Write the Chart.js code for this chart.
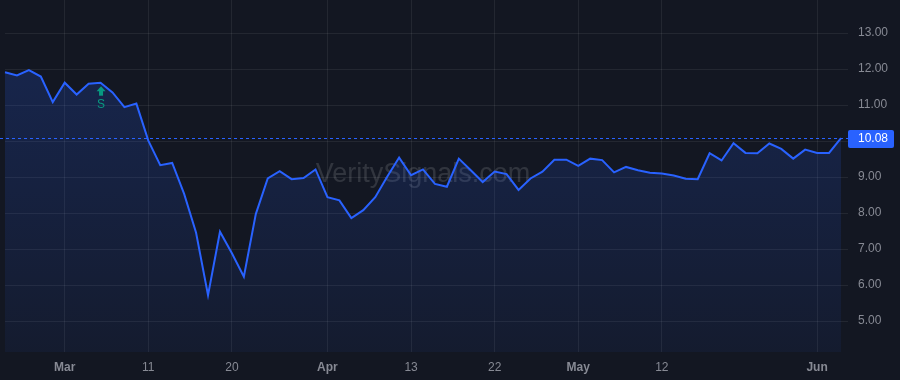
<!DOCTYPE html>
<html>
<head>
<meta charset="utf-8">
<script src="https://cdn.jsdelivr.net/npm/chart.js@4.4.1/dist/chart.umd.min.js"></script>
<style>
  html, body { margin: 0; padding: 0; background: #131722; }
  #wrap { width: 900px; height: 380px; }
</style>
</head>
<body>
<div id="wrap"><canvas id="chart1"></canvas></div>
<script>
// trading days shown on the chart
var categories = [
  'Feb 22','Feb 23','Feb 26','Feb 27','Feb 28','Mar 1','Mar 4','Mar 5','Mar 6','Mar 7',
  'Mar 8','Mar 9','Mar 11','Mar 12','Mar 13','Mar 14','Mar 15','Mar 18','Mar 19','Mar 20',
  'Mar 21','Mar 22','Mar 25','Mar 26','Mar 27','Mar 28','Mar 29','Apr 1','Apr 2','Apr 3',
  'Apr 4','Apr 5','Apr 8','Apr 10','Apr 13','Apr 14','Apr 15','Apr 16','Apr 17','Apr 18',
  'Apr 19','Apr 22','Apr 23','Apr 24','Apr 25','Apr 26','Apr 29','Apr 30','May 1','May 2',
  'May 3','May 6','May 7','May 8','May 9','May 10','May 12','May 13','May 14','May 15',
  'May 16','May 17','May 20','May 21','May 22','May 23','May 24','May 28','Jun 1','Jun 2',
  'Jun 3'
];
var prices = [
  11.91, 11.82, 11.97, 11.79, 11.08, 11.62, 11.29, 11.59, 11.62, 11.35,
  10.94, 11.04, 10.01, 9.33, 9.39, 8.53, 7.45, 5.72, 7.48, 6.88,
  6.23, 7.97, 8.96, 9.16, 8.94, 8.97, 9.21, 8.44, 8.35, 7.86,
  8.08, 8.44, 9.01, 9.54, 9.05, 9.21, 8.81, 8.73, 9.51, 9.19,
  8.86, 9.15, 9.08, 8.64, 8.96, 9.15, 9.48, 9.48, 9.31, 9.51,
  9.47, 9.13, 9.28, 9.19, 9.12, 9.10, 9.04, 8.95, 8.94, 9.66,
  9.46, 9.94, 9.67, 9.66, 9.93, 9.78, 9.51, 9.76, 9.67, 9.67,
  10.08
];
var tickIdx = [5, 12, 19, 27, 34, 41, 48, 55, 68];
var tickLabels = ['Mar', '11', '20', 'Apr', '13', '22', 'May', '12', 'Jun'];
var yTicks = [5, 6, 7, 8, 9, 10, 11, 12, 13];
var lastPrice = 10.08;
var signalIdx = 8;

var FONT = '"Liberation Sans", Arial, sans-serif';
var gridCol = 'rgba(255,255,255,0.07)';
var textCol = '#878a94';
var blue = '#2962ff';

var extras = {
  id: 'extras',
  beforeDraw: function(chart) {
    var c = chart.ctx;
    c.save();
    c.fillStyle = '#131722';
    c.fillRect(0, 0, chart.width, chart.height);
    c.restore();
  },
  beforeDatasetsDraw: function(chart) {
    var c = chart.ctx, a = chart.chartArea;
    c.save();
    c.font = '27px ' + FONT;
    c.fillStyle = 'rgba(255,255,255,0.13)';
    c.textAlign = 'center';
    c.textBaseline = 'middle';
    c.fillText('VeritySignals.com', (a.left + a.right) / 2, 175);
    c.restore();
  },
  afterDatasetsDraw: function(chart) {
    var c = chart.ctx, a = chart.chartArea;
    var ys = chart.scales.y, xs = chart.scales.x;
    var py = Math.round(ys.getPixelForValue(lastPrice)) + 0.5;
    c.save();
    // last price line
    c.strokeStyle = blue;
    c.lineWidth = 1;
    c.setLineDash([3, 3]);
    c.beginPath();
    c.moveTo(0, py);
    c.lineTo(848, py);
    c.stroke();
    c.setLineDash([]);
    // price tag
    c.fillStyle = blue;
    c.beginPath();
    c.roundRect(848, py - 8.5, 46, 18, 2);
    c.fill();
    c.fillStyle = '#ffffff';
    c.font = '12px ' + FONT;
    c.textAlign = 'left';
    c.textBaseline = 'middle';
    c.fillText(lastPrice.toFixed(2), 858, py + 0.5);
    // signal marker
    var sx = xs.getPixelForValue(signalIdx) + 0.5;
    var sy = ys.getPixelForValue(prices[signalIdx]);
    c.fillStyle = '#089981';
    c.beginPath();
    c.moveTo(sx, sy + 3.5);
    c.lineTo(sx - 4.5, sy + 8.5);
    c.lineTo(sx + 4.5, sy + 8.5);
    c.closePath();
    c.fill();
    c.fillRect(sx - 2, sy + 8, 4, 5);
    c.font = '12px ' + FONT;
    c.textAlign = 'center';
    c.fillText('S', sx, sy + 22);
    c.restore();
  }
};

var ctx = document.getElementById('chart1').getContext('2d');
var grad = ctx.createLinearGradient(0, 0, 0, 352);
grad.addColorStop(0, 'rgba(41,98,255,0.22)');
grad.addColorStop(1, 'rgba(41,98,255,0.06)');

var chart1 = new Chart(ctx, {
  type: 'line',
  data: {
    labels: categories,
    datasets: [{
      data: prices,
      borderColor: blue,
      borderWidth: 2,
      backgroundColor: grad,
      fill: 'start',
      pointRadius: 0,
      tension: 0
    }]
  },
  options: {
    responsive: true,
    maintainAspectRatio: false,
    animation: false,
    events: [],
    layout: { padding: { left: 5, right: 0, top: 0, bottom: 0 } },
    plugins: { legend: { display: false }, tooltip: { enabled: false } },
    scales: {
      x: {
        offset: false,
        afterBuildTicks: function(scale) {
          scale.ticks = scale.ticks.filter(function(t) { return tickIdx.indexOf(t.value) >= 0; });
        },
        afterFit: function(scale) {
          scale.height = 28;
          scale.paddingLeft = 0; scale.paddingRight = 0;
        },
        grid: { color: gridCol, drawTicks: false },
        border: { display: false },
        ticks: {
          autoSkip: false,
          maxRotation: 0,
          padding: 8,
          color: textCol,
          font: function(c) {
            var lbl = c.tick ? String(c.tick.label) : '';
            return { family: FONT, size: 12, weight: /^[A-Z]/.test(lbl) ? 'bold' : 'normal' };
          },
          callback: function(value) {
            return tickLabels[tickIdx.indexOf(value)];
          }
        }
      },
      y: {
        position: 'right',
        min: 4.139,
        max: 13.917,
        afterBuildTicks: function(scale) {
          scale.ticks = yTicks.map(function(v) { return { value: v }; });
        },
        afterFit: function(scale) {
          scale.width = 59;
          scale.paddingTop = 0; scale.paddingBottom = 0;
        },
        grid: { color: gridCol, drawTicks: true, tickLength: 7 },
        border: { display: false },
        ticks: {
          padding: 10,
          color: textCol,
          font: { family: FONT, size: 12 },
          callback: function(v) { return Number(v).toFixed(2); }
        }
      }
    }
  },
  plugins: [extras]
});
</script>
</body>
</html>
